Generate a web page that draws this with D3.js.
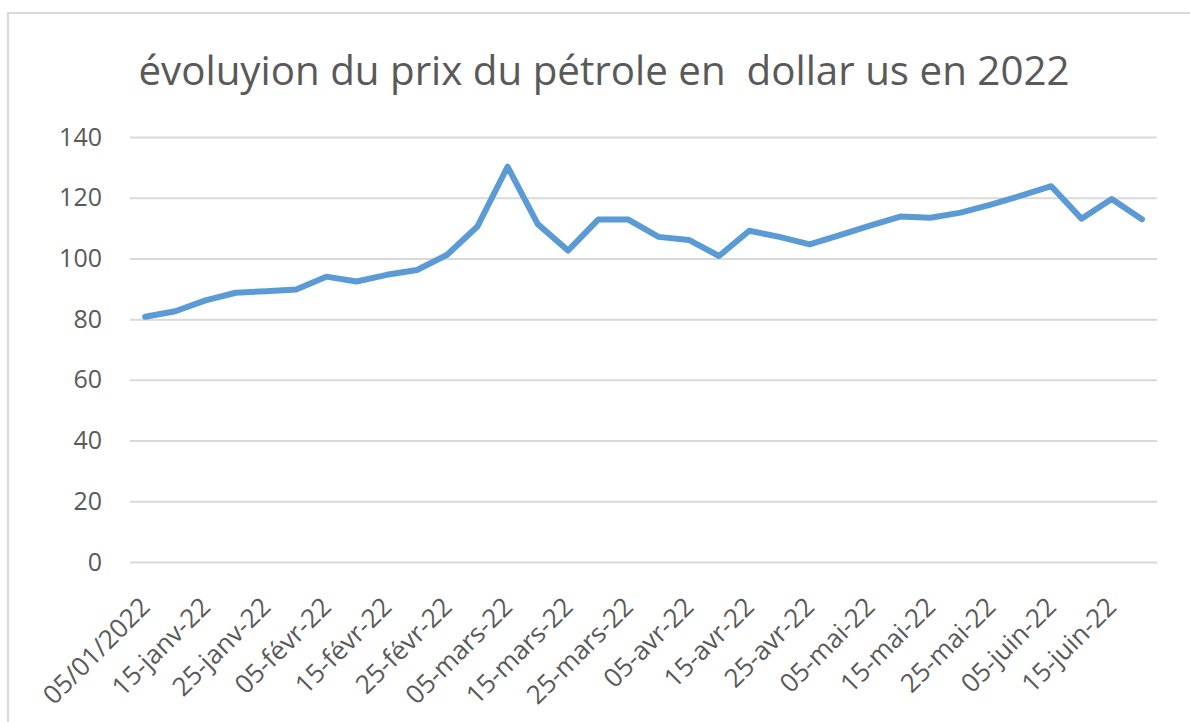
<!DOCTYPE html>
<html>
<head>
<meta charset="utf-8">
<script src="https://cdn.jsdelivr.net/npm/d3@7/dist/d3.min.js"></script>
<style>
  html, body { margin: 0; padding: 0; background: #fff; }
  svg { display: block; }
  text { font-family: "Open Sans", "Noto Sans", sans-serif; fill: #595959; }
</style>
</head>
<body>
<svg id="chart" width="1190" height="722"></svg>
<script>
const title = "évoluyion du prix du pétrole en  dollar us en 2022";

const categories = [
  "05/01/2022", "10-janv-22", "15-janv-22", "20-janv-22", "25-janv-22", "30-janv-22",
  "05-févr-22", "10-févr-22", "15-févr-22", "20-févr-22", "25-févr-22", "28-févr-22",
  "05-mars-22", "10-mars-22", "15-mars-22", "20-mars-22", "25-mars-22", "30-mars-22",
  "05-avr-22", "10-avr-22", "15-avr-22", "20-avr-22", "25-avr-22", "30-avr-22",
  "05-mai-22", "10-mai-22", "15-mai-22", "20-mai-22", "25-mai-22", "30-mai-22",
  "05-juin-22", "10-juin-22", "15-juin-22", "20-juin-22"
];

const prices = [
  80.8, 82.6, 86.2, 88.7, 89.2, 89.8,
  94.0, 92.4, 94.6, 96.2, 101.2, 110.5,
  130.2, 111.3, 102.6, 112.8, 112.8, 107.1,
  106.1, 100.8, 109.1, 107.1, 104.6, 107.7,
  110.8, 113.8, 113.4, 115.1, 117.7, 120.7,
  123.8, 113.1, 119.6, 112.9
];

const yTicks = [0, 20, 40, 60, 80, 100, 120, 140];

const svg = d3.select("#chart");
const W = 1190, H = 722;
const plot = { left: 130, right: 1157, top: 137, bottom: 562 };

// outer chart border (cropped at right/bottom)
svg.append("rect")
  .attr("x", 8).attr("y", 13)
  .attr("width", W + 50).attr("height", H + 50)
  .attr("fill", "#fff")
  .attr("stroke", "#D9D9D9").attr("stroke-width", 2);

// title
svg.append("text")
  .attr("x", 604).attr("y", 85)
  .attr("text-anchor", "middle")
  .attr("xml:space", "preserve")
  .style("white-space", "pre")
  .style("font-size", "40.3px")
  .text(title);

const x = d3.scaleBand()
  .domain(categories)
  .range([plot.left, plot.right])
  .padding(0);

const y = d3.scaleLinear()
  .domain([0, 140])
  .range([plot.bottom, plot.top]);

// gridlines + y labels
const yAxis = d3.axisLeft(y)
  .tickValues(yTicks)
  .tickSize(-(plot.right - plot.left))
  .tickPadding(28)
  .tickFormat(d3.format("d"));

const gy = svg.append("g")
  .attr("transform", `translate(${plot.left},0)`)
  .call(yAxis);
gy.select(".domain").remove();
gy.selectAll(".tick line").attr("stroke", "#D9D9D9").attr("stroke-width", 2);
gy.selectAll(".tick text")
  .style("font-size", "25px")
  .style("font-family", "'Open Sans', sans-serif")
  .attr("fill", "#595959");

// x axis labels (every second category)
const xAxis = d3.axisBottom(x)
  .tickValues(categories.filter((d, i) => i % 2 === 0))
  .tickSize(0)
  .tickPadding(0);

const gx = svg.append("g")
  .attr("transform", `translate(0,${plot.bottom})`)
  .call(xAxis);
gx.select(".domain").remove();
gx.selectAll(".tick text")
  .style("font-size", "26px")
  .style("font-family", "'Open Sans', sans-serif")
  .attr("fill", "#595959")
  .attr("text-anchor", "end")
  .attr("y", 0)
  .attr("dy", "0.35em")
  .attr("transform", "translate(0,40) rotate(-45)");

// line
const line = d3.line()
  .x((d, i) => x(categories[i]) + x.bandwidth() / 2)
  .y(d => y(d));

svg.append("path")
  .datum(prices)
  .attr("fill", "none")
  .attr("stroke", "#5B9BD5")
  .attr("stroke-width", 6)
  .attr("stroke-linejoin", "round")
  .attr("stroke-linecap", "round")
  .attr("d", line);
</script>
</body>
</html>
